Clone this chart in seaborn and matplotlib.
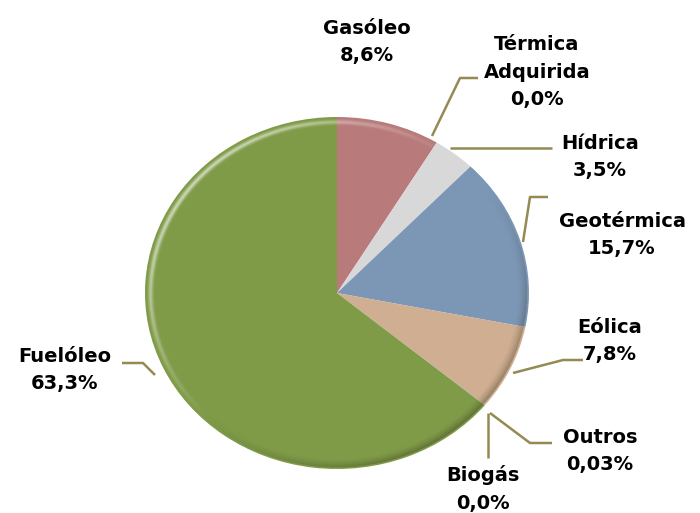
import matplotlib
matplotlib.use("Agg")
import numpy as np
import matplotlib.pyplot as plt
import seaborn as sns

sns.set_theme(style="white")
plt.rcParams['font.family'] = ['DejaVu Sans']

# Data
categories = ["Gasóleo", "Térmica\nAdquirida", "Hídrica", "Geotérmica", "Eólica",
              "Outros", "Biogás", "Fuelóleo"]
values = [8.6, 0.0, 3.5, 15.7, 7.8, 0.03, 0.0, 63.3]
value_labels = ["8,6%", "0,0%", "3,5%", "15,7%", "7,8%", "0,03%", "0,0%", "63,3%"]
colors = ["#b87a7a", "#c8c8c8", "#d8d8d8", "#7c96b6", "#cfae91", "#9b9b9b", "#9b9b9b", "#7f9b48"]

W, H = 700, 513
CX, CY, RX, RY = 337, 293, 192, 176

fig = plt.figure(figsize=(W / 100, H / 100), dpi=100)
ax = fig.add_axes([0, 0, 1, 1])

def px(x, y):
    return ((x - CX) / RX, (CY - y) / RY)

wedges, _ = ax.pie(values, colors=colors, startangle=90, counterclock=False,
                   radius=1.0, center=(0, 0), normalize=True,
                   wedgeprops=dict(linewidth=0))
ax.set_aspect('auto')
xlim = (px(0, 0)[0], px(W, 0)[0])
ylim = (px(0, H)[1], px(0, 0)[1])

# bevel overlay: highlight band upper-left, shadow lower-right (decoration)
n = 800
g = np.linspace(-1.0, 1.0, n)
gx, gy = np.meshgrid(g, g[::-1])
r = np.hypot(gx, gy)
ang = np.arctan2(gy, gx)
inside = (r <= 0.992).astype(float)
band = np.exp(-((r - 0.972) / 0.012) ** 2)
edge = np.clip((r - 0.94) / 0.06, 0, 1) ** 1.5
hl = np.clip(np.cos(ang - np.radians(140)), 0, None) ** 1.2 * band * 0.6 * inside
sh = np.clip(np.cos(ang + np.radians(50)), 0, None) ** 1.2 * edge * 0.5 * inside
wang = np.clip(np.cos(ang - np.radians(140)), 0, None)
sang = np.clip(np.cos(ang + np.radians(50)), 0, None)
wfrac = wang / np.maximum(wang + sang, 1e-6)
rgba = np.zeros((n, n, 4))
rgba[..., 0] = wfrac + (1 - wfrac) * 0.18
rgba[..., 1] = wfrac + (1 - wfrac) * 0.18
rgba[..., 2] = wfrac + (1 - wfrac) * 0.10
rgba[..., 3] = np.clip(hl + sh, 0, 1)
ax.imshow(rgba, extent=(-1, 1, -1, 1), aspect='auto', interpolation='bilinear', zorder=3)

ax.set_xlim(*xlim)
ax.set_ylim(*ylim)
ax.axis('off')

line_c = "#948a54"
font = dict(fontsize=14, color="black", ha="center", va="center", fontweight="bold")

# label layout: (text position, leader polyline) in pixel coordinates
layout = {
    "Gasóleo": ((367, 42), None),
    "Térmica\nAdquirida": ((537, 72), [(432, 136), (460, 78), (478, 78)]),
    "Hídrica": ((600, 157), [(450, 148), (552, 148)]),
    "Geotérmica": ((622, 235), [(523, 242), (530, 197), (548, 197)]),
    "Eólica": ((610, 341), [(513, 373), (563, 360), (583, 360)]),
    "Outros": ((600, 451), [(490, 413), (530, 443), (552, 443)]),
    "Biogás": ((483, 489), [(488, 413), (488, 458)]),
    "Fuelóleo": ((65, 370), [(155, 375), (143, 363), (122, 363)]),
}

for cat, vl in zip(categories, value_labels):
    (tx, ty), pts = layout[cat]
    txt = f"{cat}\n{vl}"
    ax.text(*px(tx, ty), txt, linespacing=1.55, zorder=5, **font)
    if pts:
        xs, ys = zip(*[px(a, b) for a, b in pts])
        ax.plot(xs, ys, color=line_c, lw=1.8, solid_capstyle="butt", zorder=4)

fig.savefig("out.png", dpi=100)
